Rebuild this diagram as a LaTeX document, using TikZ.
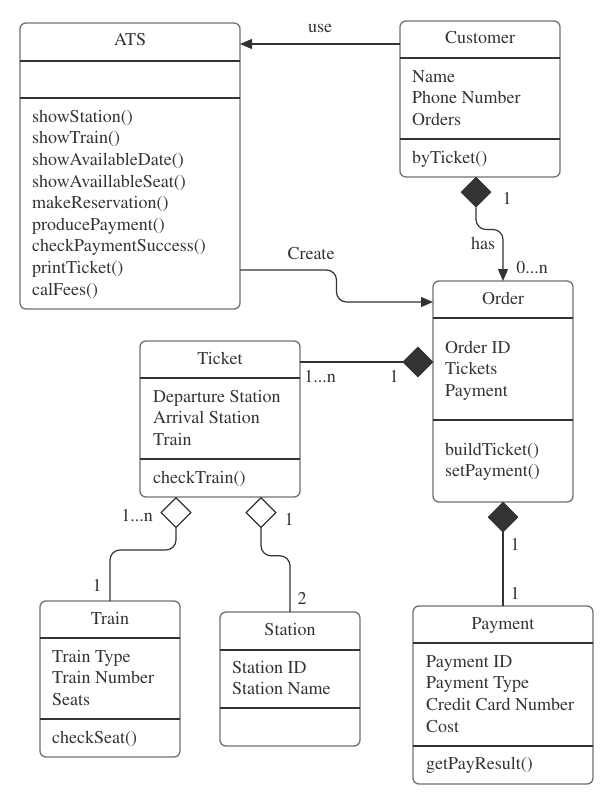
\documentclass[tikz,border=0pt]{standalone}
\usepackage[T1]{fontenc}
\usepackage{mathptmx}
\usepackage{tikz}
\usetikzlibrary{calc}
\usetikzlibrary{positioning}
\usetikzlibrary{arrows.meta}
\usetikzlibrary{shapes.geometric}
\definecolor{ink}{RGB}{51,51,51}
\definecolor{frame}{RGB}{112,112,112}

\begin{document}
\begin{tikzpicture}[x=1pt, y=-1pt, >={Triangle[length=12pt,width=10pt]},
  umlclass/.style={draw=frame, line width=1.3pt, rounded corners=6pt, inner sep=0pt, outer sep=0pt},
  divider/.style={draw=ink, line width=1.1pt},
  conn/.style={draw=ink, line width=1.2pt},
  classname/.style={anchor=base, font=\fontsize{18}{21.6}\selectfont, text=ink, inner sep=0pt},
  members/.style={anchor=north west, align=left, font=\fontsize{18}{21.6}\selectfont, text=ink, inner sep=0pt},
  mult/.style={font=\fontsize{18}{21.6}\selectfont, text=ink, inner sep=0pt},
  compdia/.style={diamond, fill=ink, draw=ink, inner sep=0pt, minimum width=30pt, minimum height=30pt},
  aggrdia/.style={diamond, fill=white, draw=ink, line width=1.1pt, inner sep=0pt, minimum width=30pt, minimum height=30pt}]

\useasboundingbox (0,0) rectangle (614,808);

% class boxes
\node [umlclass, minimum width=220pt, minimum height=286pt] (ats) at (130,166) {};
\node [umlclass, minimum width=160pt, minimum height=156pt] (cust) at (480,99) {};
\node [umlclass, minimum width=140pt, minimum height=221pt] (order) at (503,391.5) {};
\node [umlclass, minimum width=160pt, minimum height=156pt] (ticket) at (220,419) {};
\node [umlclass, minimum width=140pt, minimum height=156pt] (train) at (110,679) {};
\node [umlclass, minimum width=140pt, minimum height=134pt] (station) at (290,679) {};
\node [umlclass, minimum width=180pt, minimum height=178pt] (payment) at (503,695) {};

% compartments
\draw [divider] ([yshift=-38pt]ats.north west) -- ([yshift=-38pt]ats.north east);
\draw [divider] ([yshift=-75pt]ats.north west) -- ([yshift=-75pt]ats.north east);
\draw [divider] ([yshift=-37pt]cust.north west) -- ([yshift=-37pt]cust.north east);
\draw [divider] ([yshift=-118pt]cust.north west) -- ([yshift=-118pt]cust.north east);
\draw [divider] ([yshift=-37pt]order.north west) -- ([yshift=-37pt]order.north east);
\draw [divider] ([yshift=-139pt]order.north west) -- ([yshift=-139pt]order.north east);
\draw [divider] ([yshift=-37pt]ticket.north west) -- ([yshift=-37pt]ticket.north east);
\draw [divider] ([yshift=-118pt]ticket.north west) -- ([yshift=-118pt]ticket.north east);
\draw [divider] ([yshift=-37pt]train.north west) -- ([yshift=-37pt]train.north east);
\draw [divider] ([yshift=-118pt]train.north west) -- ([yshift=-118pt]train.north east);
\draw [divider] ([yshift=-38pt]station.north west) -- ([yshift=-38pt]station.north east);
\draw [divider] ([yshift=-96pt]station.north west) -- ([yshift=-96pt]station.north east);
\draw [divider] ([yshift=-37pt]payment.north west) -- ([yshift=-37pt]payment.north east);
\draw [divider] ([yshift=-140pt]payment.north west) -- ([yshift=-140pt]payment.north east);

% names
\node [classname] (atsname) at (130,46) {ATS};
\node [classname] (custname) at (480,44) {Customer};
\node [classname] (ordername) at (503,304) {Order};
\node [classname] (ticketname) at (220,364) {Ticket};
\node [classname] (trainname) at (110,624) {Train};
\node [classname] (stationname) at (290,635) {Station};
\node [classname] (paymentname) at (503,629) {Payment};

% attributes and operations
\node [members] (atsops) at (32,107) {\strut showStation()\\showTrain()\\showAvailableDate()\\showAvaillableSeat()\\makeReservation()\\producePayment()\\checkPaymentSuccess()\\printTicket()\\calFees()};
\node [members] (custattr) at (412,67) {\strut Name\\Phone Number\\Orders};
\node [members] (custops) at (412,148) {\strut byTicket()};
\node [members] (orderattr) at (445,338) {\strut Order ID\\Tickets\\Payment};
\node [members] (orderops) at (445,440) {\strut buildTicket()\\setPayment()};
\node [members] (ticketattr) at (153,387) {\strut Departure Station\\Arrival Station\\Train};
\node [members] (ticketops) at (153,468) {\strut checkTrain()};
\node [members] (trainattr) at (52,647) {\strut Train Type\\Train Number\\Seats};
\node [members] (trainops) at (52,728) {\strut checkSeat()};
\node [members] (stationattr) at (232,658) {\strut Station ID\\Station Name};
\node [members] (paymentattr) at (426,652) {\strut Payment ID\\Payment Type\\Credit Card Number\\Cost};
\node [members] (paymentops) at (426,754) {\strut getPayResult()};

% diamonds
\node [compdia, anchor=north] (custdia) at ([xshift=-4pt]cust.south) {};
\node [compdia, anchor=east] (orderdia) at ([yshift=-81pt]order.north west) {};
\node [compdia, anchor=north] (paydia) at (order.south) {};
\node [aggrdia, anchor=north] (traindia) at ([xshift=-44pt]ticket.south) {};
\node [aggrdia, anchor=north] (stationdia) at ([xshift=41pt]ticket.south) {};

% bend points
\coordinate (usestart) at ([yshift=-23pt]cust.north west);
\coordinate (createstart) at ([yshift=-247pt]ats.north east);
\coordinate (createend) at ([yshift=-21pt]order.north west);
\coordinate (createmid) at ($(ats.east)!0.5!(order.west)$);
\coordinate (hasmid) at ($(custdia.south)!0.3!(order.north)$);
\coordinate (trainmid) at ($(traindia.south)!0.3!(train.north)$);
\coordinate (stationmid) at ($(stationdia.south)!0.33!(station.north)$);

% connectors
\draw [conn,->] (usestart) -- (usestart -| ats.east);
\draw [conn,->,rounded corners=10pt] (createstart) -| (createmid |- createend) -- (createend);
\draw [conn,->,rounded corners=10pt] (custdia.south) |- (order.north |- hasmid) -- (order.north);
\draw [conn] (orderdia.west) -- (orderdia.west -| ticket.east);
\draw [conn] (paydia.south) -- (payment.north);
\draw [conn,rounded corners=10pt] (traindia.south) |- (train.north |- trainmid) -- (train.north);
\draw [conn,rounded corners=10pt] (stationdia.south) |- (station.north |- stationmid) -- (station.north);

% diamonds again, on top of the lines
\node [compdia, anchor=north] at ([xshift=-4pt]cust.south) {};
\node [compdia, anchor=east] at ([yshift=-81pt]order.north west) {};
\node [compdia, anchor=north] at (order.south) {};
\node [aggrdia, anchor=north] at ([xshift=-44pt]ticket.south) {};
\node [aggrdia, anchor=north] at ([xshift=41pt]ticket.south) {};

% labels
\node [mult] (uselbl) at (320,28) {use};
\node [mult] (createlbl) at (311,253) {Create};
\node [mult] (haslbl) at (483,243) {has};
\node [mult] (custone) at (507,198) {1};
\node [mult] (ordermany) at (532,267) {0...n};
\node [mult] (ticketmany) at (320,376) {1...n};
\node [mult] (orderone) at (394,376) {1};
\node [mult] (payone) at (515,544) {1};
\node [mult] (paytwo) at (515,593) {1};
\node [mult] (trainmany) at (137,515) {1...n};
\node [mult] (trainone) at (97,585) {1};
\node [mult] (stationone) at (289,519) {1};
\node [mult] (stationtwo) at (302,598) {2};

\end{tikzpicture}
\end{document}
